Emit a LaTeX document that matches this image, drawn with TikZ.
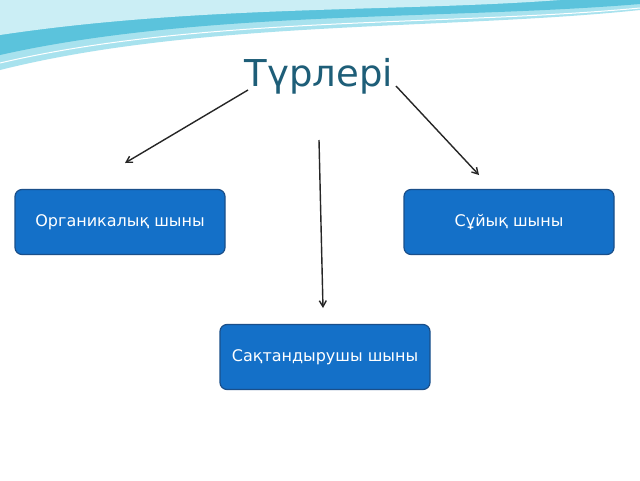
\documentclass[tikz,border=0pt]{standalone}
\usepackage{fontspec}
\setmainfont{DejaVu Sans}
\usetikzlibrary{arrows.meta}
\definecolor{boxblue}{HTML}{1470C8}
\definecolor{boxedge}{HTML}{1A4F8A}
\definecolor{titlec}{HTML}{1E5E78}
\definecolor{wave1}{HTML}{5BC3DC}
\definecolor{wave2}{HTML}{A8E2EE}
\tikzset{
  box/.style={draw=boxedge, line width=1.2pt, fill=boxblue, rounded corners=7pt,
    minimum width=210pt, minimum height=65pt, text=white, font=\fontsize{16}{19}\selectfont},
  arr/.style={-{Straight Barb[length=6pt,width=7pt]}, line width=1.4pt, black!85}
}
\begin{document}
\begin{tikzpicture}[x=1pt,y=-1pt]
\useasboundingbox (0,0) rectangle (640,480);
\fill[white] (0,0) rectangle (640,480);
% top waves
\fill[wave2] (0,0) -- (640,0) -- (640,10) .. controls (450,30) and (200,20) .. (0,70) -- cycle;
\fill[wave1] (0,0) -- (640,0) -- (640,4) .. controls (450,20) and (200,10) .. (0,55) -- cycle;
\fill[wave2!60] (0,0) -- (560,0) .. controls (400,12) and (200,5) .. (0,35) -- cycle;
\draw[white, line width=1pt] (640,8) .. controls (450,26) and (200,16) .. (0,63);
\node[text=titlec, font=\fontsize{37}{42}\selectfont] (t) at (319,76) {Түрлері};
\node[box] (a) at (120,222) {Органикалық шыны};
\node[box] (b) at (509,222) {Сұйық шыны};
\node[box] (c) at (325,357) {Сақтандырушы шыны};
\coordinate (s1) at (248,90); \coordinate (e1) at (125,163);
\coordinate (s2) at (396,86); \coordinate (e2) at (479,175);
\coordinate (s3) at (319,140); \coordinate (e3) at (323,308);
\draw[arr] (s1) -- (e1);
\draw[arr] (s2) -- (e2);
\draw[arr] (s3) -- (e3);
\end{tikzpicture}
\end{document}
